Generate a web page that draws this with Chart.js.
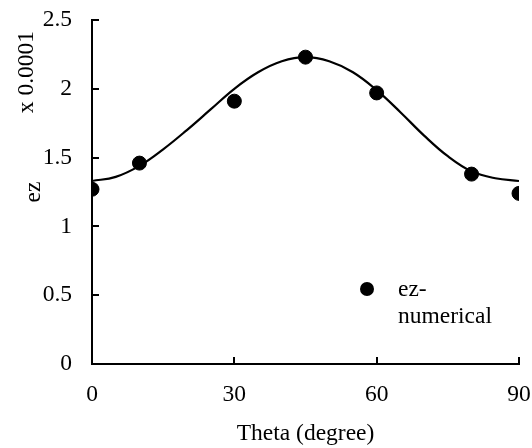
<!DOCTYPE html>
<html>
<head>
<meta charset="utf-8">
<script src="https://cdn.jsdelivr.net/npm/chart.js@4.4.1/dist/chart.umd.min.js"></script>
<style>
  html, body { margin: 0; padding: 0; background: #fff; }
  .chart-container { position: relative; width: 532px; height: 448px; }
</style>
</head>
<body>
<div class="chart-container">
  <canvas id="ezChart"></canvas>
</div>
<script>
// numerical results
const thetaNumerical = [0, 10, 30, 45, 60, 80, 90];
const ezNumerical = [1.27, 1.46, 1.91, 2.23, 1.97, 1.38, 1.24];

// fitted curve
const thetaCurve = [0, 5, 10, 15, 20, 25, 30, 35, 40, 45, 50, 55, 60, 65, 70, 75, 80, 85, 90];
const ezCurve = [1.33, 1.36, 1.44, 1.56, 1.70, 1.85, 2.00, 2.12, 2.20, 2.23, 2.20, 2.12, 1.99, 1.83, 1.66, 1.51, 1.40, 1.35, 1.33];

const xTicks = [0, 30, 60, 90];
const yTicks = [0, 0.5, 1, 1.5, 2, 2.5];

const legendLines = ['ez-', 'numerical'];
const unitLabel = 'x 0.0001';

const FONT = 'Liberation Serif';
const FONT_SIZE = 23.5;

const toPoints = (xs, ys) => xs.map((x, i) => ({ x: x, y: ys[i] }));

// short tick marks pointing into the plot, plus the units note and legend
const innerTicks = {
  id: 'innerTicks',
  afterDraw(chart) {
    const { ctx, scales: { x, y } } = chart;
    ctx.save();
    ctx.strokeStyle = '#000';
    ctx.lineWidth = 2;
    ctx.beginPath();
    yTicks.forEach(v => {
      if (v === 0) return;
      const py = Math.round(y.getPixelForValue(v));
      ctx.moveTo(x.left, py);
      ctx.lineTo(x.left + 7, py);
    });
    xTicks.forEach(v => {
      if (v === 0) return;
      const px = Math.round(x.getPixelForValue(v));
      ctx.moveTo(px, y.bottom);
      ctx.lineTo(px, y.bottom - 7);
    });
    ctx.stroke();

    // units note beside the y axis
    ctx.fillStyle = '#000';
    ctx.font = FONT_SIZE + 'px "' + FONT + '"';
    ctx.translate(27, 72);
    ctx.rotate(-Math.PI / 2);
    ctx.textAlign = 'center';
    ctx.textBaseline = 'middle';
    ctx.fillText(unitLabel, 0, 0);
    ctx.restore();

    // legend inside the plot
    ctx.save();
    ctx.fillStyle = '#000';
    ctx.beginPath();
    ctx.arc(367, 289, 7, 0, Math.PI * 2);
    ctx.fill();
    ctx.font = FONT_SIZE + 'px "' + FONT + '"';
    ctx.textAlign = 'left';
    ctx.textBaseline = 'alphabetic';
    legendLines.forEach((line, i) => {
      ctx.fillText(line, 398, 296 + i * 27);
    });
    ctx.restore();
  }
};

new Chart(document.getElementById('ezChart'), {
  type: 'scatter',
  data: {
    datasets: [
      {
        label: 'ez-numerical',
        data: toPoints(thetaNumerical, ezNumerical),
        backgroundColor: '#000',
        borderColor: '#000',
        pointRadius: 7,
        pointHoverRadius: 7,
        order: 0,
      },
      {
        label: 'ez-fit',
        data: toPoints(thetaCurve, ezCurve),
        showLine: true,
        borderColor: '#000',
        borderWidth: 2.2,
        pointRadius: 0,
        tension: 0.4,
        fill: false,
        order: 1,
      },
    ],
  },
  options: {
    responsive: true,
    maintainAspectRatio: false,
    animation: false,
    layout: { padding: { top: 20, right: 13, left: 0, bottom: 0 } },
    plugins: {
      legend: { display: false },
      tooltip: { enabled: false },
    },
    scales: {
      x: {
        type: 'linear',
        min: 0,
        max: 90,
        afterBuildTicks: scale => { scale.ticks = xTicks.map(v => ({ value: v })); },
        afterFit: scale => {
          scale.height = 84;
          scale.paddingLeft = 0;
          scale.paddingRight = 0;
        },
        grid: { display: false, drawTicks: false },
        border: { display: true, color: '#000', width: 2 },
        ticks: { color: '#000', padding: 17, font: { family: FONT, size: FONT_SIZE } },
        title: {
          display: true,
          text: 'Theta (degree)',
          color: '#000',
          font: { family: FONT, size: FONT_SIZE },
          padding: { top: 0, bottom: 0 },
        },
      },
      y: {
        type: 'linear',
        min: 0,
        max: 2.5,
        afterBuildTicks: scale => { scale.ticks = yTicks.map(v => ({ value: v })); },
        afterFit: scale => {
          scale.width = 92;
          scale.paddingTop = 0;
          scale.paddingBottom = 0;
        },
        grid: { display: false, drawTicks: false },
        border: { display: true, color: '#000', width: 2 },
        ticks: {
          color: '#000',
          padding: 20,
          font: { family: FONT, size: FONT_SIZE },
          callback: v => String(v),
        },
        title: {
          display: true,
          text: 'ez',
          color: '#000',
          font: { family: FONT, size: FONT_SIZE },
          padding: { top: 20, bottom: 0 },
        },
      },
    },
  },
  plugins: [innerTicks],
});
</script>
</body>
</html>
